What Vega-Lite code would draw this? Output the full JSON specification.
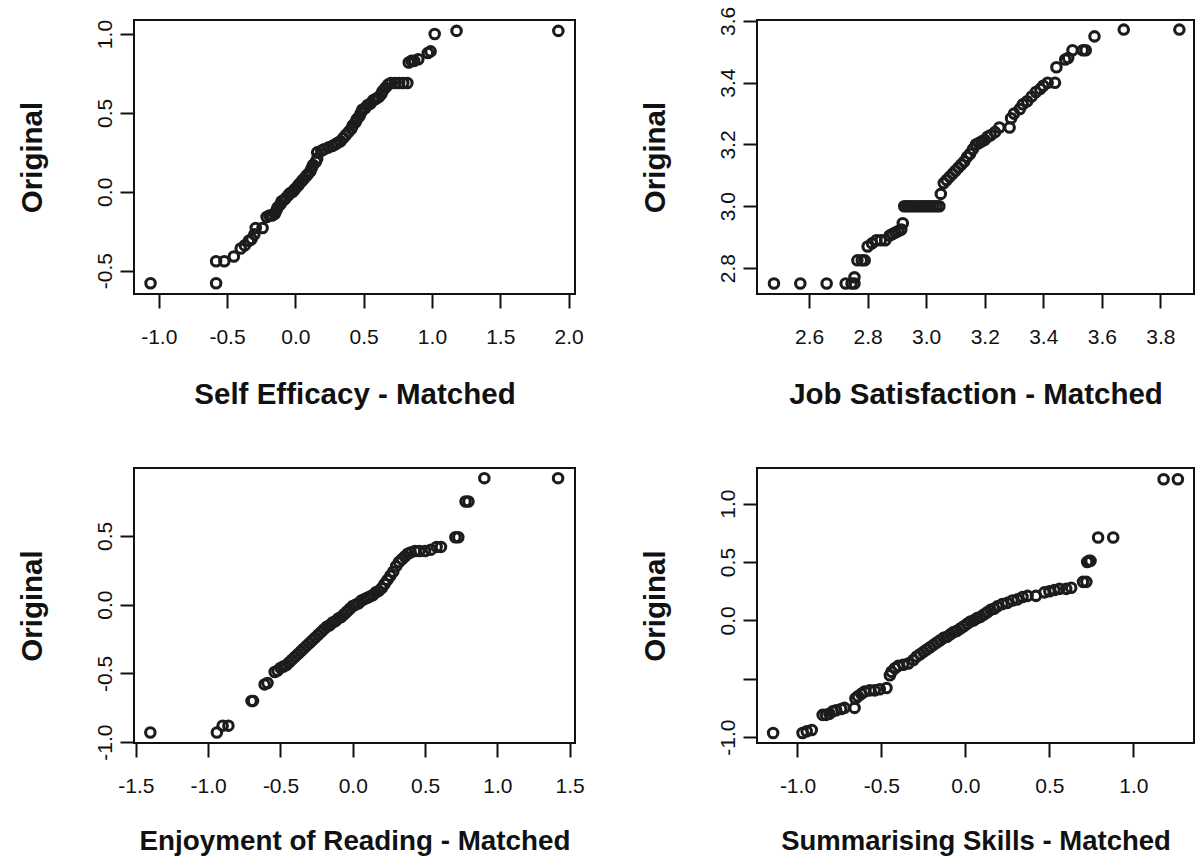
{
  "$schema": "https://vega.github.io/schema/vega-lite/v6.json",
  "background": "white",
  "padding": {"left": 16, "top": 5, "right": 5, "bottom": 5},
  "columns": 2,
  "spacing": {"row": 174, "column": 182},
  "bounds": "flush",
  "datasets": {
    "se": [
      {"x": -1.06, "y": -0.58}, {"x": -0.58, "y": -0.58}, {"x": -0.58, "y": -0.44}, {"x": -0.52, "y": -0.44},
      {"x": -0.45, "y": -0.41}, {"x": -0.40, "y": -0.36}, {"x": -0.37, "y": -0.34}, {"x": -0.34, "y": -0.31},
      {"x": -0.32, "y": -0.30}, {"x": -0.30, "y": -0.27}, {"x": -0.29, "y": -0.23}, {"x": -0.24, "y": -0.23},
      {"x": -0.21, "y": -0.16}, {"x": -0.19, "y": -0.15}, {"x": -0.17, "y": -0.15}, {"x": -0.15, "y": -0.14},
      {"x": -0.14, "y": -0.12}, {"x": -0.13, "y": -0.10}, {"x": -0.11, "y": -0.08}, {"x": -0.10, "y": -0.06},
      {"x": -0.08, "y": -0.05}, {"x": -0.07, "y": -0.04}, {"x": -0.05, "y": -0.02}, {"x": -0.04, "y": -0.01},
      {"x": -0.02, "y": 0.00}, {"x": -0.01, "y": 0.01}, {"x": 0.00, "y": 0.02}, {"x": 0.02, "y": 0.04},
      {"x": 0.03, "y": 0.05}, {"x": 0.05, "y": 0.07}, {"x": 0.06, "y": 0.08}, {"x": 0.08, "y": 0.10},
      {"x": 0.09, "y": 0.11}, {"x": 0.11, "y": 0.13}, {"x": 0.12, "y": 0.15}, {"x": 0.13, "y": 0.17},
      {"x": 0.15, "y": 0.19}, {"x": 0.16, "y": 0.21}, {"x": 0.16, "y": 0.25}, {"x": 0.19, "y": 0.26},
      {"x": 0.21, "y": 0.27}, {"x": 0.24, "y": 0.28}, {"x": 0.27, "y": 0.29}, {"x": 0.29, "y": 0.30},
      {"x": 0.31, "y": 0.31}, {"x": 0.33, "y": 0.32}, {"x": 0.35, "y": 0.34}, {"x": 0.37, "y": 0.36},
      {"x": 0.39, "y": 0.38}, {"x": 0.41, "y": 0.40}, {"x": 0.42, "y": 0.42}, {"x": 0.44, "y": 0.44},
      {"x": 0.45, "y": 0.46}, {"x": 0.47, "y": 0.48}, {"x": 0.48, "y": 0.50}, {"x": 0.49, "y": 0.52},
      {"x": 0.51, "y": 0.53}, {"x": 0.53, "y": 0.55}, {"x": 0.55, "y": 0.56}, {"x": 0.57, "y": 0.58},
      {"x": 0.59, "y": 0.59}, {"x": 0.61, "y": 0.60}, {"x": 0.63, "y": 0.62}, {"x": 0.64, "y": 0.64},
      {"x": 0.66, "y": 0.66}, {"x": 0.68, "y": 0.68}, {"x": 0.70, "y": 0.69}, {"x": 0.73, "y": 0.69},
      {"x": 0.76, "y": 0.69}, {"x": 0.79, "y": 0.69}, {"x": 0.82, "y": 0.69}, {"x": 0.83, "y": 0.82},
      {"x": 0.85, "y": 0.83}, {"x": 0.87, "y": 0.83}, {"x": 0.90, "y": 0.84}, {"x": 0.97, "y": 0.88},
      {"x": 0.99, "y": 0.89}, {"x": 1.02, "y": 1.00}, {"x": 1.18, "y": 1.02}, {"x": 1.925, "y": 1.02}
    ],
    "js": [
      {"x": 2.48, "y": 2.75}, {"x": 2.57, "y": 2.75}, {"x": 2.66, "y": 2.75}, {"x": 2.725, "y": 2.75},
      {"x": 2.745, "y": 2.75}, {"x": 2.755, "y": 2.75}, {"x": 2.755, "y": 2.77}, {"x": 2.765, "y": 2.825},
      {"x": 2.78, "y": 2.825}, {"x": 2.79, "y": 2.825}, {"x": 2.80, "y": 2.87}, {"x": 2.815, "y": 2.88},
      {"x": 2.83, "y": 2.89}, {"x": 2.845, "y": 2.89}, {"x": 2.86, "y": 2.89}, {"x": 2.875, "y": 2.905},
      {"x": 2.885, "y": 2.91}, {"x": 2.895, "y": 2.915}, {"x": 2.905, "y": 2.92}, {"x": 2.915, "y": 2.925},
      {"x": 2.92, "y": 2.945}, {"x": 2.925, "y": 3.0}, {"x": 2.935, "y": 3.0}, {"x": 2.945, "y": 3.0},
      {"x": 2.955, "y": 3.0}, {"x": 2.965, "y": 3.0}, {"x": 2.975, "y": 3.0}, {"x": 2.985, "y": 3.0},
      {"x": 2.995, "y": 3.0}, {"x": 3.005, "y": 3.0}, {"x": 3.015, "y": 3.0}, {"x": 3.025, "y": 3.0},
      {"x": 3.035, "y": 3.0}, {"x": 3.045, "y": 3.0}, {"x": 3.05, "y": 3.04}, {"x": 3.06, "y": 3.075},
      {"x": 3.07, "y": 3.085}, {"x": 3.08, "y": 3.095}, {"x": 3.09, "y": 3.105}, {"x": 3.10, "y": 3.115},
      {"x": 3.11, "y": 3.125}, {"x": 3.12, "y": 3.135}, {"x": 3.13, "y": 3.145}, {"x": 3.14, "y": 3.16},
      {"x": 3.15, "y": 3.17}, {"x": 3.16, "y": 3.185}, {"x": 3.17, "y": 3.20}, {"x": 3.18, "y": 3.205},
      {"x": 3.19, "y": 3.21}, {"x": 3.20, "y": 3.215}, {"x": 3.21, "y": 3.225}, {"x": 3.22, "y": 3.23},
      {"x": 3.235, "y": 3.24}, {"x": 3.25, "y": 3.255}, {"x": 3.285, "y": 3.255}, {"x": 3.29, "y": 3.285},
      {"x": 3.30, "y": 3.30}, {"x": 3.32, "y": 3.315}, {"x": 3.33, "y": 3.33}, {"x": 3.345, "y": 3.34},
      {"x": 3.36, "y": 3.355}, {"x": 3.375, "y": 3.37}, {"x": 3.39, "y": 3.38}, {"x": 3.40, "y": 3.39},
      {"x": 3.415, "y": 3.40}, {"x": 3.44, "y": 3.40}, {"x": 3.445, "y": 3.45}, {"x": 3.475, "y": 3.475},
      {"x": 3.485, "y": 3.48}, {"x": 3.50, "y": 3.505}, {"x": 3.535, "y": 3.505}, {"x": 3.545, "y": 3.505},
      {"x": 3.575, "y": 3.55}, {"x": 3.675, "y": 3.572}, {"x": 3.865, "y": 3.572}
    ],
    "er": [
      {"x": -1.40, "y": -0.93}, {"x": -0.94, "y": -0.93}, {"x": -0.90, "y": -0.88}, {"x": -0.86, "y": -0.88},
      {"x": -0.70, "y": -0.70}, {"x": -0.69, "y": -0.70}, {"x": -0.61, "y": -0.58}, {"x": -0.59, "y": -0.57},
      {"x": -0.54, "y": -0.49}, {"x": -0.52, "y": -0.48}, {"x": -0.50, "y": -0.46}, {"x": -0.48, "y": -0.45},
      {"x": -0.46, "y": -0.44}, {"x": -0.44, "y": -0.42}, {"x": -0.42, "y": -0.40}, {"x": -0.40, "y": -0.38},
      {"x": -0.38, "y": -0.36}, {"x": -0.36, "y": -0.34}, {"x": -0.34, "y": -0.32}, {"x": -0.32, "y": -0.30},
      {"x": -0.30, "y": -0.28}, {"x": -0.28, "y": -0.26}, {"x": -0.26, "y": -0.24}, {"x": -0.24, "y": -0.22},
      {"x": -0.22, "y": -0.20}, {"x": -0.20, "y": -0.18}, {"x": -0.18, "y": -0.16}, {"x": -0.16, "y": -0.15},
      {"x": -0.14, "y": -0.13}, {"x": -0.12, "y": -0.12}, {"x": -0.10, "y": -0.10}, {"x": -0.08, "y": -0.09},
      {"x": -0.06, "y": -0.07}, {"x": -0.04, "y": -0.05}, {"x": -0.02, "y": -0.03}, {"x": 0.00, "y": -0.01},
      {"x": 0.02, "y": 0.00}, {"x": 0.04, "y": 0.01}, {"x": 0.06, "y": 0.03}, {"x": 0.08, "y": 0.04},
      {"x": 0.10, "y": 0.05}, {"x": 0.12, "y": 0.06}, {"x": 0.14, "y": 0.07}, {"x": 0.16, "y": 0.09},
      {"x": 0.18, "y": 0.10}, {"x": 0.20, "y": 0.12}, {"x": 0.22, "y": 0.15}, {"x": 0.24, "y": 0.18},
      {"x": 0.26, "y": 0.21}, {"x": 0.28, "y": 0.24}, {"x": 0.30, "y": 0.28}, {"x": 0.32, "y": 0.31},
      {"x": 0.34, "y": 0.33}, {"x": 0.36, "y": 0.35}, {"x": 0.38, "y": 0.37}, {"x": 0.40, "y": 0.38},
      {"x": 0.43, "y": 0.39}, {"x": 0.46, "y": 0.39}, {"x": 0.50, "y": 0.39}, {"x": 0.54, "y": 0.40},
      {"x": 0.58, "y": 0.42}, {"x": 0.61, "y": 0.42}, {"x": 0.71, "y": 0.49}, {"x": 0.73, "y": 0.49},
      {"x": 0.78, "y": 0.75}, {"x": 0.80, "y": 0.75}, {"x": 0.91, "y": 0.92}, {"x": 1.42, "y": 0.92}
    ],
    "ss": [
      {"x": -1.145, "y": -0.965}, {"x": -0.97, "y": -0.965}, {"x": -0.945, "y": -0.95}, {"x": -0.915, "y": -0.94},
      {"x": -0.85, "y": -0.81}, {"x": -0.83, "y": -0.81}, {"x": -0.81, "y": -0.80}, {"x": -0.79, "y": -0.78},
      {"x": -0.77, "y": -0.77}, {"x": -0.74, "y": -0.76}, {"x": -0.72, "y": -0.75}, {"x": -0.66, "y": -0.75},
      {"x": -0.655, "y": -0.67}, {"x": -0.64, "y": -0.65}, {"x": -0.62, "y": -0.63}, {"x": -0.60, "y": -0.61},
      {"x": -0.57, "y": -0.60}, {"x": -0.54, "y": -0.60}, {"x": -0.51, "y": -0.59}, {"x": -0.47, "y": -0.58},
      {"x": -0.45, "y": -0.47}, {"x": -0.44, "y": -0.44}, {"x": -0.42, "y": -0.41}, {"x": -0.40, "y": -0.39},
      {"x": -0.37, "y": -0.38}, {"x": -0.34, "y": -0.37}, {"x": -0.31, "y": -0.34}, {"x": -0.29, "y": -0.31},
      {"x": -0.27, "y": -0.29}, {"x": -0.25, "y": -0.27}, {"x": -0.23, "y": -0.25}, {"x": -0.21, "y": -0.23},
      {"x": -0.19, "y": -0.21}, {"x": -0.17, "y": -0.19}, {"x": -0.15, "y": -0.17}, {"x": -0.13, "y": -0.15},
      {"x": -0.11, "y": -0.14}, {"x": -0.09, "y": -0.12}, {"x": -0.07, "y": -0.10}, {"x": -0.05, "y": -0.09},
      {"x": -0.03, "y": -0.07}, {"x": -0.01, "y": -0.05}, {"x": 0.01, "y": -0.03}, {"x": 0.03, "y": -0.01},
      {"x": 0.05, "y": 0.00}, {"x": 0.07, "y": 0.02}, {"x": 0.09, "y": 0.03}, {"x": 0.11, "y": 0.05},
      {"x": 0.13, "y": 0.07}, {"x": 0.15, "y": 0.09}, {"x": 0.17, "y": 0.10}, {"x": 0.19, "y": 0.12},
      {"x": 0.22, "y": 0.14}, {"x": 0.25, "y": 0.15}, {"x": 0.28, "y": 0.17}, {"x": 0.31, "y": 0.18},
      {"x": 0.34, "y": 0.20}, {"x": 0.37, "y": 0.21}, {"x": 0.42, "y": 0.21}, {"x": 0.47, "y": 0.24},
      {"x": 0.50, "y": 0.25}, {"x": 0.53, "y": 0.26}, {"x": 0.56, "y": 0.27}, {"x": 0.60, "y": 0.27},
      {"x": 0.63, "y": 0.28}, {"x": 0.70, "y": 0.33}, {"x": 0.72, "y": 0.33}, {"x": 0.725, "y": 0.50},
      {"x": 0.735, "y": 0.51}, {"x": 0.745, "y": 0.51}, {"x": 0.79, "y": 0.71}, {"x": 0.88, "y": 0.71},
      {"x": 1.18, "y": 1.21}, {"x": 1.265, "y": 1.21}
    ]
  },
  "concat": [
    {
      "width": 441, "height": 274,
      "data": {"name": "se"},
      "mark": {"type": "point", "shape": "circle", "filled": false, "stroke": "#1c1c1c", "strokeWidth": 3.1, "size": 90, "opacity": 1},
      "encoding": {
        "x": {"field": "x", "type": "quantitative", "scale": {"domain": [-1.181, 2.047], "nice": false, "zero": false},
              "axis": {"title": "Self Efficacy - Matched", "titleFontSize": 29.5, "values": [-1, -0.5, 0, 0.5, 1, 1.5, 2], "format": ".1f",
                       "labelExpr": "replace(datum.label, '−', '-')"}},
        "y": {"field": "y", "type": "quantitative", "scale": {"domain": [-0.648, 1.089], "nice": false, "zero": false},
              "axis": {"title": "Original", "values": [-0.5, 0, 0.5, 1], "format": ".1f",
                       "labelExpr": "replace(datum.label, '−', '-')"}}
      }
    },
    {
      "width": 437, "height": 274,
      "data": {"name": "js"},
      "mark": {"type": "point", "shape": "circle", "filled": false, "stroke": "#1c1c1c", "strokeWidth": 3.1, "size": 90, "opacity": 1},
      "encoding": {
        "x": {"field": "x", "type": "quantitative", "scale": {"domain": [2.422, 3.915], "nice": false, "zero": false},
              "axis": {"title": "Job Satisfaction - Matched", "titleFontSize": 29.5, "values": [2.6, 2.8, 3.0, 3.2, 3.4, 3.6, 3.8], "format": ".1f"}},
        "y": {"field": "y", "type": "quantitative", "scale": {"domain": [2.716, 3.603], "nice": false, "zero": false},
              "axis": {"title": "Original", "values": [2.8, 3.0, 3.2, 3.4, 3.6], "format": ".1f"}}
      }
    },
    {
      "width": 441, "height": 275,
      "data": {"name": "er"},
      "mark": {"type": "point", "shape": "circle", "filled": false, "stroke": "#1c1c1c", "strokeWidth": 3.1, "size": 90, "opacity": 1},
      "encoding": {
        "x": {"field": "x", "type": "quantitative", "scale": {"domain": [-1.513, 1.537], "nice": false, "zero": false},
              "axis": {"title": "Enjoyment of Reading - Matched", "titleFontSize": 27.8, "titleY": 106, "values": [-1.5, -1, -0.5, 0, 0.5, 1, 1.5], "format": ".1f",
                       "labelExpr": "replace(datum.label, '−', '-')"}},
        "y": {"field": "y", "type": "quantitative", "scale": {"domain": [-1.006, 0.994], "nice": false, "zero": false},
              "axis": {"title": "Original", "values": [-1, -0.5, 0, 0.5], "format": ".1f",
                       "labelExpr": "replace(datum.label, '−', '-')"}}
      }
    },
    {
      "width": 437, "height": 275,
      "data": {"name": "ss"},
      "mark": {"type": "point", "shape": "circle", "filled": false, "stroke": "#1c1c1c", "strokeWidth": 3.1, "size": 90, "opacity": 1},
      "encoding": {
        "x": {"field": "x", "type": "quantitative", "scale": {"domain": [-1.241, 1.361], "nice": false, "zero": false},
              "axis": {"title": "Summarising Skills - Matched", "titleFontSize": 27.5, "titleY": 106, "values": [-1, -0.5, 0, 0.5, 1], "format": ".1f",
                       "labelExpr": "replace(datum.label, '−', '-')"}},
        "y": {"field": "y", "type": "quantitative", "scale": {"domain": [-1.051, 1.306], "nice": false, "zero": false},
              "axis": {"title": "Original", "values": [-1, -0.5, 0, 0.5, 1], "format": ".1f",
                       "labelExpr": "datum.value == -0.5 ? '' : replace(datum.label, '−', '-')"}}
      }
    }
  ],
  "config": {
    "view": {"stroke": "#111111", "strokeWidth": 2},
    "axis": {
      "domain": false, "grid": false,
      "tickColor": "#111111", "tickWidth": 2, "tickSize": 14,
      "labelFont": "Liberation Sans", "labelFontSize": 21, "labelColor": "#111111",
      "labelFlush": false, "labelOverlap": false,
      "titleFont": "Liberation Sans", "titleFontSize": 29.5, "titleFontWeight": "bold", "titleColor": "#111111"
    },
    "axisX": {"labelAngle": 0, "labelBaseline": "top", "labelPadding": 18, "titleY": 109, "titleBaseline": "alphabetic"},
    "axisY": {"labelAngle": 270, "labelAlign": "center", "labelBaseline": "alphabetic", "labelPadding": 9,
              "titleAngle": 270, "titleX": -93, "titleBaseline": "alphabetic", "titleAlign": "center"}
  }
}
